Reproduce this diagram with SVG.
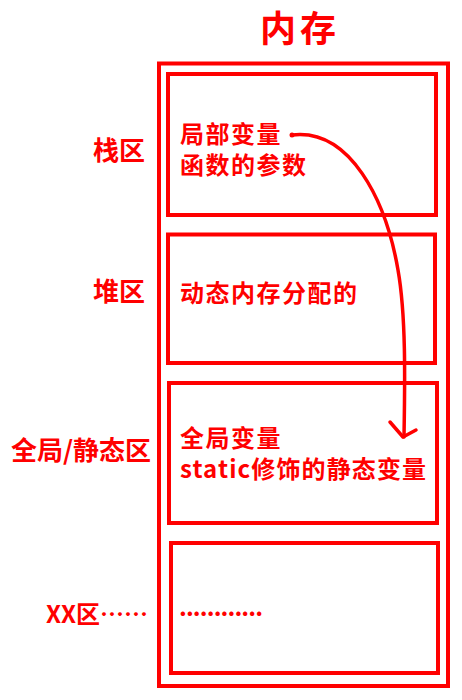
<svg xmlns="http://www.w3.org/2000/svg" width="462" height="700" viewBox="0 0 462 700">
<style>
.box{fill:none;stroke:#ff0000;stroke-width:4}
.t{font-family:"Noto Sans CJK SC","Noto Sans",sans-serif;font-weight:bold;fill:#ff0000;font-size:24px}
.in{letter-spacing:1.5px}
.lab{text-anchor:end;font-size:26px;font-weight:bold}
.conn{fill:none;stroke:#ff0000;stroke-width:3.5;stroke-linecap:round;stroke-linejoin:round}
</style>
<rect width="462" height="700" fill="#ffffff"/>
<g id="title"><text class="t" x="300" y="42" text-anchor="middle" style="font-size:36px;letter-spacing:4px">内存</text></g>
<g id="memory"><rect class="box" x="159" y="63.5" width="289" height="622.5"/></g>
<g id="stack">
<rect class="box" x="168" y="74" width="268" height="141"/>
<text class="t in" x="180" y="143">局部变量</text>
<text class="t in" x="180" y="174">函数的参数</text>
<text class="t lab" x="145" y="160">栈区</text>
</g>
<g id="heap">
<rect class="box" x="168" y="234.5" width="267" height="128.5"/>
<text class="t in" x="180" y="302">动态内存分配的</text>
<text class="t lab" x="145" y="301">堆区</text>
</g>
<g id="global">
<rect class="box" x="169" y="383" width="268" height="140"/>
<text class="t in" x="180" y="447">全局变量</text>
<text class="t" x="180" y="478" textLength="246">static修饰的静态变量</text>
<text class="t lab" x="151" y="460" textLength="140">全局/静态区</text>
</g>
<g id="other">
<rect class="box" x="171" y="543" width="267" height="130"/>
<text class="t" x="179" y="616" textLength="84" lengthAdjust="spacing">............</text>
<text class="t lab" x="148" y="623" style="font-size:24px">XX区……</text>
</g>
<g id="connectors">
<path class="conn" d="M292,135 C350,128 386,200 398,270 C406,315 405,380 404,437"/>
<path class="conn" d="M390,422 L403,437 L416,430"/>
<circle cx="292" cy="135" r="2.5" fill="#ff0000"/>
</g>
</svg>
